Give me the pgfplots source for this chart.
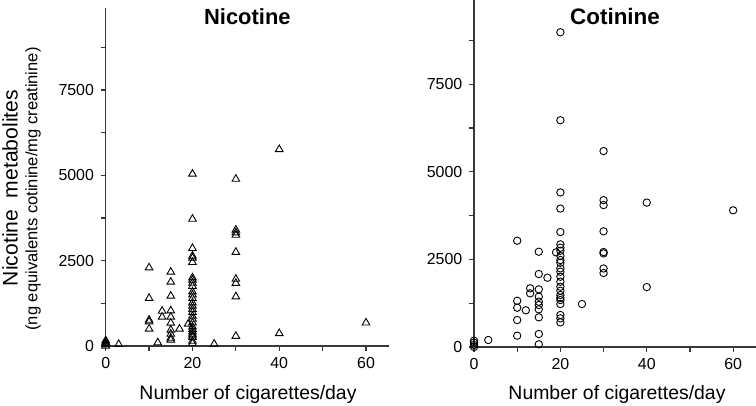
\documentclass[border=0pt]{standalone}
\usepackage{fontspec}
\setmainfont{Liberation Sans}
\usepackage{pgfplots}
\pgfplotsset{compat=1.18}
\pgfplotstableread{
x y
0 0
0 40
0 80
0 120
0 160
3 50
10 2295
10 1400
10 760
10 712
10 500
12 100
13 1025
13 850
15 2168
15 1875
15 1465
15 1034
15 850
15 674
15 469
15 351
15 234
15 176
17 500
19 645
20 5040
20 3720
20 2862
20 2637
20 2578
20 2452
20 2001
20 1933
20 1845
20 1750
20 1591
20 1500
20 1396
20 1269
20 1172
20 1074
20 987
20 879
20 791
20 683
20 565
20 489
20 420
20 351
20 300
20 254
20 146
20 78
25 60
30 4890
30 3400
30 3320
30 3250
30 2750
30 1960
30 1840
30 1445
30 290
40 5760
40 370
60 680
}\nicdata
\pgfplotstableread{
x y
0 0
0 57
0 123
0 180
3.3 200
10 3032
10 1320
10 1121
10 770
10 323
12 1047
13 1674
13 1531
15 2718
15 2082
15 1645
15 1435
15 1292
15 1198
15 1075
15 847
15 371
15 77
17 1977
19 2700
20 8980
20 6470
20 4410
20 3950
20 3280
20 2929
20 2832
20 2746
20 2600
20 2481
20 2404
20 2244
20 2148
20 2005
20 1862
20 1720
20 1606
20 1483
20 1400
20 1340
20 1226
20 913
20 818
20 704
25 1226
30 5590
30 4190
30 4050
30 3300
30 2710
30 2670
30 2240
30 2110
40 4120
40 1710
60 3900
}\cotdata
\pgfplotsset{
  myax/.style={
    scale only axis,
    axis x line=bottom, axis y line=left,
    axis line style={-, line width=1.2pt, color=black!78},
    tick align=outside, major tick length=4.7bp,
    every tick/.style={line width=1.2pt, color=black!78},
    xmin=0, xmax=65.3, ymin=0, ymax=9900,
    xtick={0,10,...,60}, xticklabels={0,,20,,40,,60},
    ytick={0,1250,...,8750}, yticklabels={0,,2500,,5000,,7500,},
    ticklabel style={font=\fontsize{16}{18}\selectfont},
    yticklabel style={xshift=-3.5bp},
    xticklabel style={yshift=-3.5bp},
    /pgf/number format/assume math mode=true,
    clip=false,
  }
}
\begin{document}
\begin{tikzpicture}[x=1bp,y=1bp]
\begin{axis}[myax, at={(105.7bp,59bp)}, anchor=south west, width=283.3bp, height=338bp]
\addplot[only marks, mark=triangle, mark size=4.4bp, mark options={line width=0.9pt, black}] table[x=x,y=y] {\nicdata};
\node[anchor=base, font=\fontsize{22}{25}\bfseries] at (rel axis cs:0.5,0.95) {Nicotine};
\end{axis}
\begin{axis}[myax, at={(474bp,58bp)}, anchor=south west, width=282bp, height=347bp]
\addplot[only marks, mark=o, mark size=3.7bp, mark options={line width=0.9pt, black}] table[x=x,y=y] {\cotdata};
\node[anchor=base, font=\fontsize{22.5}{25}\bfseries] at (rel axis cs:0.5,0.928) {Cotinine};
\end{axis}
\node[rotate=90, font=\fontsize{21.2}{24}\selectfont] at (10,217) {Nicotine\ \ metabolites};
\node[rotate=90, font=\fontsize{16.6}{19}\selectfont] at (33,216) {(ng equivalents cotinine/mg creatinine)};
\node[anchor=base, font=\fontsize{19.5}{22}\selectfont] at (248,6) {Number of cigarettes/day};
\node[anchor=base, font=\fontsize{19.5}{22}\selectfont] at (617,6) {Number of cigarettes/day};
\pgfresetboundingbox
\path[use as bounding box] (0,0) rectangle (756,405);
\end{tikzpicture}
\end{document}
